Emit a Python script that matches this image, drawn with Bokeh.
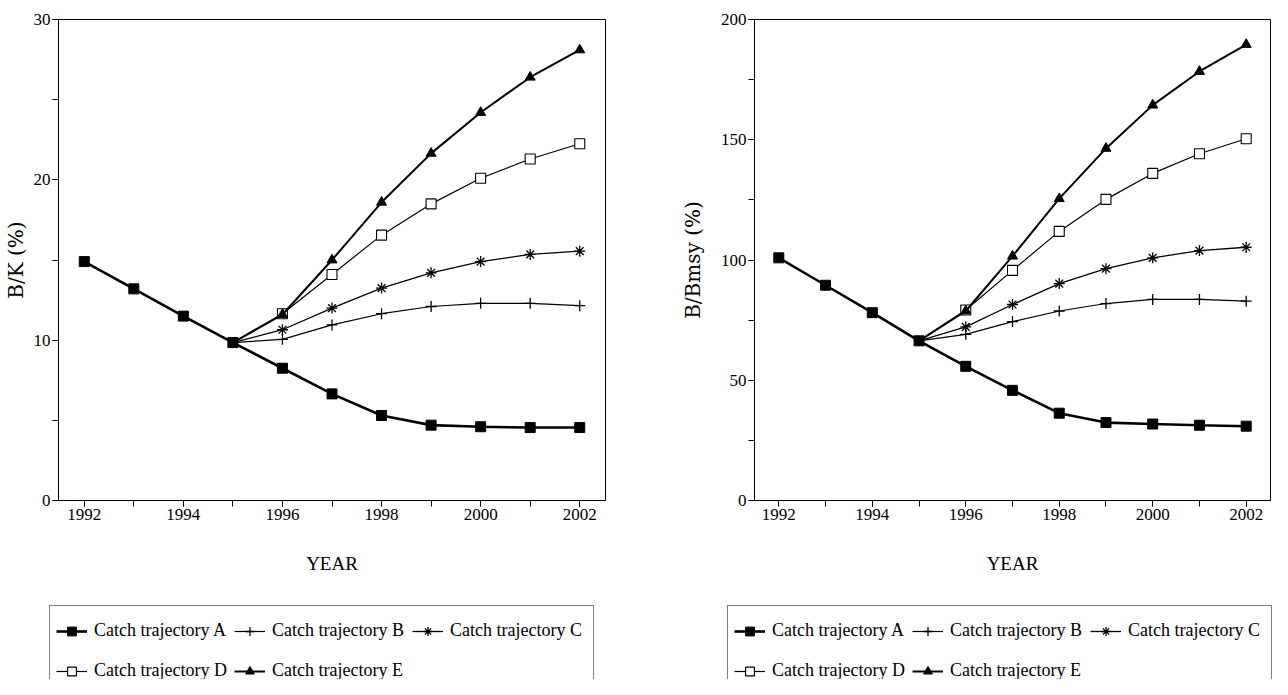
from bokeh.plotting import figure
from bokeh.models import Range1d, SingleIntervalTicker, Legend, LegendItem
from bokeh.layouts import row, column
from bokeh.embed import file_html
from bokeh.resources import INLINE

# ---------------- data ----------------
years = [1992, 1993, 1994, 1995, 1996, 1997, 1998, 1999, 2000, 2001, 2002]
proj_years = [1995, 1996, 1997, 1998, 1999, 2000, 2001, 2002]

# B/K (%)
bk_a = [14.9, 13.2, 11.5, 9.85, 8.25, 6.65, 5.3, 4.7, 4.6, 4.55, 4.55]
bk_b = [9.85, 10.05, 10.95, 11.65, 12.1, 12.3, 12.3, 12.15]
bk_c = [9.85, 10.65, 12.0, 13.25, 14.2, 14.9, 15.35, 15.55]
bk_d = [9.85, 11.65, 14.1, 16.55, 18.5, 20.1, 21.3, 22.25]
bk_e = [9.85, 11.6, 15.0, 18.6, 21.65, 24.2, 26.4, 28.1]

# B/Bmsy (%)
bb_a = [100.9, 89.5, 78.1, 66.4, 55.8, 45.8, 36.3, 32.4, 31.8, 31.3, 30.9]
bb_b = [66.4, 69.1, 74.4, 78.8, 81.9, 83.6, 83.6, 82.9]
bb_c = [66.4, 72.2, 81.5, 90.2, 96.4, 100.9, 103.9, 105.3]
bb_d = [66.4, 79.2, 95.7, 111.9, 125.2, 136.0, 144.2, 150.4]
bb_e = [66.4, 78.8, 101.6, 125.5, 146.4, 164.4, 178.4, 189.6]

labels = ["Catch trajectory A", "Catch trajectory B", "Catch trajectory C",
          "Catch trajectory D", "Catch trajectory E"]

x_start, x_end = 1991.48, 2002.52

TICK_FONT = "Liberation Serif"
AXLAB_FONT = "DejaVu Serif"

STYLES = [
    dict(marker="square", size=10, fill="black", lw=2.6, mlw=1.0),
    dict(marker="cross", size=11, fill="black", lw=1.2, mlw=1.3),
    dict(marker="asterisk", size=11, fill="black", lw=1.3, mlw=1.3),
    dict(marker="square", size=10, fill="white", lw=1.2, mlw=1.1),
    dict(marker="triangle", size=10, fill="black", lw=2.0, mlw=1.0),
]


def series_of(a, b, c, d, e):
    return [(years, a, 0), (proj_years, b, 1), (proj_years, c, 1),
            (proj_years, d, 1), (proj_years, e, 1)]


def make_fig(a, b, c, d, e, y_end, y_int, ylabel, width, height,
             mbl, mbr, mbt, mbb, ylab_standoff):
    p = figure(width=width, height=height, output_backend="svg",
               toolbar_location=None,
               x_range=Range1d(x_start, x_end), y_range=Range1d(0, y_end),
               min_border_left=mbl, min_border_right=mbr,
               min_border_top=mbt, min_border_bottom=mbb)
    p.background_fill_color = "white"
    p.border_fill_color = "white"
    p.outline_line_color = "black"
    p.outline_line_width = 1
    p.xgrid.visible = False
    p.ygrid.visible = False

    p.xaxis.ticker = SingleIntervalTicker(interval=2, num_minor_ticks=2)
    p.yaxis.ticker = SingleIntervalTicker(interval=y_int, num_minor_ticks=2)
    for ax in (p.xaxis, p.yaxis):
        ax.axis_line_color = "black"
        ax.major_tick_line_color = "black"
        ax.minor_tick_line_color = "black"
        ax.major_tick_in = 0
        ax.minor_tick_in = 0
        ax.major_tick_out = 6
        ax.minor_tick_out = 6
        ax.major_label_text_font = TICK_FONT
        ax.major_label_text_font_size = "17px"
        ax.major_label_text_color = "black"
        ax.major_label_standoff = 2
    p.xaxis.axis_label = "YEAR"
    p.xaxis.axis_label_text_font = TICK_FONT
    p.xaxis.axis_label_text_font_size = "19px"
    p.xaxis.axis_label_text_font_style = "normal"
    p.xaxis.axis_label_text_color = "black"
    p.xaxis.axis_label_standoff = 30
    p.yaxis.axis_label = ylabel
    p.yaxis.axis_label_text_font = AXLAB_FONT
    p.yaxis.axis_label_text_font_size = "20px"
    p.yaxis.axis_label_text_font_style = "normal"
    p.yaxis.axis_label_text_color = "black"
    p.yaxis.axis_label_standoff = ylab_standoff

    series = series_of(a, b, c, d, e)
    for i in [1, 2, 3, 4, 0]:
        xs, ys, skip = series[i]
        st = STYLES[i]
        p.line(xs, ys, line_color="black", line_width=st["lw"])
        p.scatter(xs[skip:], ys[skip:], marker=st["marker"], size=st["size"],
                  fill_color=st["fill"], line_color="black",
                  line_width=st["mlw"])
    return p


def add_legend(q, series, leg_x, leg_top, height):
    items = []
    for i, st in enumerate(STYLES):
        xs, ys, skip = series[i]
        # carriers for the legend glyphs only (outside the visible 0..1 range)
        lr = q.line(xs, ys, line_color="black", line_width=st["lw"])
        sr = q.scatter(xs, ys, marker=st["marker"], size=st["size"],
                       fill_color=st["fill"], line_color="black",
                       line_width=st["mlw"])
        items.append(LegendItem(label=labels[i], renderers=[lr, sr]))
    pad = 6
    item_h = 37
    spacing = 3
    leg_h = 2 * pad + 2 * item_h + spacing
    leg = Legend(items=items, ncols=3, orientation="horizontal",
                 location=(leg_x, height - leg_top - leg_h),
                 glyph_width=31, glyph_height=22, label_height=item_h,
                 label_width=137,
                 label_standoff=7, spacing=spacing, padding=pad, margin=0,
                 label_text_font=TICK_FONT, label_text_font_size="18px",
                 label_text_color="black",
                 border_line_color="black", border_line_width=1,
                 background_fill_color="white", background_fill_alpha=1.0)
    q.add_layout(leg)


W1, W2 = 636, 636
HP = 600
HL = 79
p1 = make_fig(bk_a, bk_b, bk_c, bk_d, bk_e, 30, 10, "B/K (%)", W1, HP,
              56, 31, 19, 99, 3)
p2 = make_fig(bb_a, bb_b, bb_c, bb_d, bb_e, 200, 50, "B/Bmsy (%)", W2, HP,
              118, 2, 15, 100, 13)

lq = figure(width=W1 + W2, height=HL, output_backend="svg",
            toolbar_location=None, x_axis_type=None, y_axis_type=None,
            x_range=Range1d(0, 1), y_range=Range1d(0, 1),
            min_border_left=0, min_border_right=0,
            min_border_top=0, min_border_bottom=0)
lq.outline_line_color = None
lq.xgrid.visible = False
lq.ygrid.visible = False
lq.background_fill_color = "white"
lq.border_fill_color = "white"
add_legend(lq, series_of(bk_a, bk_b, bk_c, bk_d, bk_e), 49, 7, HL)
add_legend(lq, series_of(bb_a, bb_b, bb_c, bb_d, bb_e), 727, 7, HL)

layout = column(row(p1, p2), lq)
open("out.html", "w").write(file_html(layout, INLINE))
